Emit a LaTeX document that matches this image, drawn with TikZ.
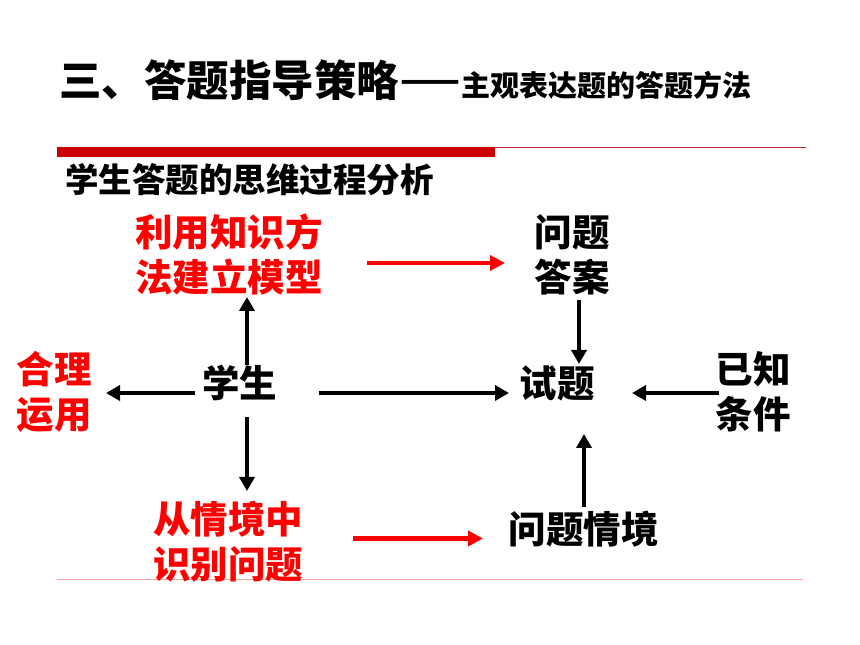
\documentclass[tikz,border=0pt]{standalone}
\usepackage{fontspec}
\usepackage{graphicx}
\setmainfont{Noto Sans CJK SC}
\usetikzlibrary{arrows.meta}
\definecolor{txtred}{HTML}{FF0000}
\definecolor{barred}{HTML}{CC0000}
\definecolor{thinred}{HTML}{C8282A}
\definecolor{pinkline}{HTML}{F4A4A4}
\tikzset{
  lbl/.style={inner sep=0pt, align=center, font=\fontsize{37.5}{45}\selectfont\bfseries},
  redlbl/.style={lbl, text=txtred},
  arr/.style={line width=4pt, draw=black, -{Triangle[width=15pt,length=14pt]}},
  redarr/.style={line width=4.5pt, draw=txtred, -{Triangle[width=15pt,length=15pt]}}
}
\begin{document}
\begin{tikzpicture}[x=1pt,y=1pt]
\useasboundingbox[fill=white] (0,0) rectangle (860,645);
% title
\node[inner sep=0pt, anchor=base west, font=\bfseries] (title) at (59,548)
  {\fontsize{42.5}{42.5}\selectfont 三、答题指导策略\fontsize{29}{29}\selectfont\kern1pt\raisebox{4pt}{\resizebox{60pt}{1.2\height}{——}}\kern1pt 主观表达题的答题方法};
% rules
\fill[barred] (57,498) rectangle (495,488);
\draw[thinred, line width=1.4pt] (495,497.3) -- (806,497.3);
\draw[pinkline, line width=1pt] (57,65) -- (803,65);
% subheading
\node[inner sep=0pt, anchor=west, font=\fontsize{33.5}{33.5}\selectfont\bfseries] (sub) at (65,465) {学生答题的思维过程分析};
% diagram nodes
\node[redlbl] (model) at (229,391) {利用知识方\\法建立模型};
\node[lbl] (ans) at (572,390.5) {问题\\答案};
\node[redlbl] (heli) at (54,253.5) {合理\\运用};
\node[lbl] (stu) at (239.5,262) {学生};
\node[lbl] (shiti) at (557,262) {试题};
\node[lbl] (yizhi) at (753,253) {已知\\条件};
\node[redlbl] (cong) at (228,103.5) {从情境中\\识别问题};
\node[lbl] (qj) at (583.5,115.5) {问题情境};
% connectors
\draw[arr] ([xshift=7.5pt,yshift=18pt]stu.center) -- ([xshift=18pt,yshift=-43pt]model.center);
\draw[arr] ([xshift=-44.5pt,yshift=-10pt]stu.center) -- ([xshift=52pt,yshift=-1.5pt]heli.center);
\draw[arr] ([xshift=79.5pt,yshift=-10pt]stu.center) -- ([xshift=-48pt,yshift=-10pt]shiti.center);
\draw[arr] ([xshift=7.5pt,yshift=-34pt]stu.center) -- ([xshift=19pt,yshift=50.5pt]cong.center);
\draw[redarr] ([xshift=138pt,yshift=-9pt]model.center) -- ([xshift=-67pt,yshift=-8.5pt]ans.center);
\draw[redarr] ([xshift=125pt,yshift=3pt]cong.center) -- ([xshift=-100.5pt,yshift=-9pt]qj.center);
\draw[arr] ([xshift=7pt,yshift=-45.5pt]ans.center) -- ([xshift=22pt,yshift=19pt]shiti.center);
\draw[arr] ([xshift=-34pt,yshift=-1pt]yizhi.center) -- ([xshift=75pt,yshift=-10pt]shiti.center);
\draw[arr] ([xshift=0.5pt,yshift=22.5pt]qj.center) -- ([xshift=27pt,yshift=-51pt]shiti.center);
\end{tikzpicture}
\end{document}
